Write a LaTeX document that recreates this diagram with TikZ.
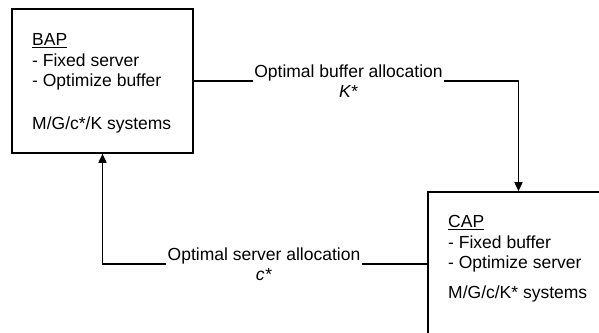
\documentclass[tikz,border=0pt]{standalone}
\usepackage{fontspec}
\setmainfont{Liberation Sans}
\usetikzlibrary{arrows.meta}
\begin{document}
\begin{tikzpicture}[x=1pt,y=1pt,
  box/.style={draw=black, line width=1.6pt, minimum width=181, minimum height=144, inner sep=0pt},
  boxtext/.style={align=left, anchor=north west, inner sep=0pt, font=\fontsize{17.5}{20.5}\selectfont},
  lbl/.style={align=center, inner sep=1.2pt, font=\fontsize{17.5}{20.5}\selectfont},
  conn/.style={line width=1.6pt, black},
  arr/.style={conn, -{Triangle[length=9pt,width=8pt]}}]
\useasboundingbox (0,0) rectangle (599,-332);
\clip (0,0) rectangle (599,-332);
\node[box] (bap) at (102.5,-81) {};
\node[box] (cap) at (518.5,-264) {};
\node[boxtext] (baptxt) at (32,-33.5) {\underline{BAP}\\- Fixed server\\- Optimize buffer\\[22pt]M/G/c*/K systems};
\node[boxtext] (captxt) at (448,-215.5) {\underline{CAP}\\- Fixed buffer\\- Optimize server\\[9.5pt]M/G/c/K* systems};
\node[lbl] (top) at (348.5,-81) {Optimal buffer allocation\\\textit{K*}};
\node[lbl] (bot) at (264,-264) {Optimal server allocation\\\textit{c*}};
\draw[conn] (bap.east) -- (bap.east -| top.west);
\draw[arr] (top.east |- bap.east) -| (cap.north);
\draw[conn] (cap.west) -- (cap.west -| bot.east);
\draw[arr] (bot.west |- cap.west) -| (bap.south);
\end{tikzpicture}
\end{document}
